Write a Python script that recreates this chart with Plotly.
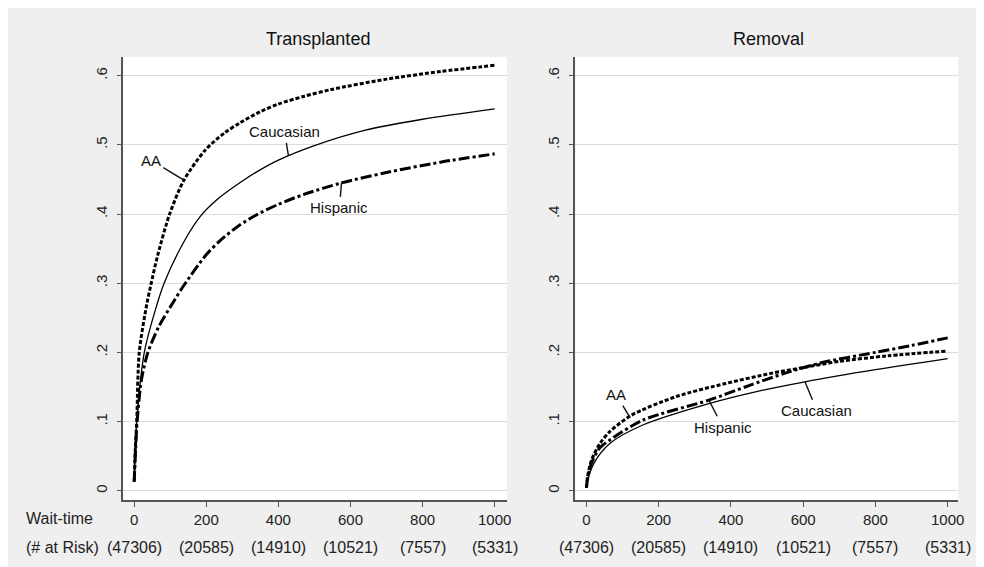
import plotly.graph_objects as go
from plotly.subplots import make_subplots

# ---------------- data ----------------
panel_titles = ["Transplanted", "Removal"]

# Transplanted panel (wait-time in days, cumulative incidence)
tx_aa_t = [0, 3, 7, 14, 35, 46, 64, 97, 138, 198, 250, 294, 350, 400, 470, 547, 700, 850, 1000]
tx_aa_v = [0.013, 0.06, 0.10, 0.20, 0.27, 0.297, 0.338, 0.398, 0.449, 0.493, 0.517, 0.532, 0.548, 0.559, 0.570, 0.580, 0.595, 0.606, 0.615]

tx_cau_t = [0, 3, 7, 28, 55, 83, 138, 184, 230, 276, 340, 400, 500, 639, 800, 1000]
tx_cau_v = [0.013, 0.06, 0.10, 0.20, 0.255, 0.30, 0.360, 0.397, 0.421, 0.439, 0.461, 0.478, 0.499, 0.521, 0.537, 0.552]

tx_his_t = [0, 3, 8, 20, 38, 69, 110, 138, 198, 239, 290, 340, 400, 469, 575, 700, 850, 1000]
tx_his_v = [0.013, 0.05, 0.10, 0.16, 0.20, 0.238, 0.274, 0.297, 0.340, 0.362, 0.383, 0.399, 0.414, 0.428, 0.445, 0.460, 0.475, 0.487]

# Removal panel
rm_aa_t = [0, 3, 14, 37, 64, 124, 248, 385, 514, 600, 700, 834, 1000]
rm_aa_v = [0.004, 0.02, 0.044, 0.068, 0.085, 0.109, 0.136, 0.155, 0.170, 0.178, 0.187, 0.195, 0.202]

rm_cau_t = [0, 3, 21, 64, 156, 339, 468, 605, 800, 1000]
rm_cau_v = [0.004, 0.014, 0.040, 0.068, 0.095, 0.126, 0.143, 0.1575, 0.175, 0.191]

rm_his_t = [0, 3, 14, 37, 64, 156, 339, 450, 550, 650, 800, 900, 1000]
rm_his_v = [0.004, 0.017, 0.040, 0.062, 0.073, 0.102, 0.131, 0.152, 0.170, 0.185, 0.200, 0.210, 0.221]

x_ticks = [0, 200, 400, 600, 800, 1000]
at_risk = ["(47306)", "(20585)", "(14910)", "(10521)", "(7557)", "(5331)"]
y_ticks = [0, 0.1, 0.2, 0.3, 0.4, 0.5, 0.6]
y_tick_text = ["0", ".1", ".2", ".3", ".4", ".5", ".6"]

# ---------------- geometry helpers (page offset by 8px body margin) ----------------
FONT = "Liberation Sans, Arial, sans-serif"
OFF = 8
W, H = 984 - OFF, 567 - OFF


def px(x):
    return (x - OFF) / W


def py(y):
    return 1 - (y - OFF) / H


left_dom = [px(124), px(510)]
right_dom = [px(579), px(964)]
y_dom = [py(500), py(57)]

fig = make_subplots(rows=1, cols=2)

styles = {
    "AA": dict(color="black", width=3, dash="4px,2px"),
    "Caucasian": dict(color="black", width=1.3),
    "Hispanic": dict(color="black", width=3, dash="11px,3px,3px,3px"),
}


def add(t, v, name, col):
    fig.add_trace(go.Scatter(x=t, y=v, mode="lines", name=name,
                             line=dict(shape="spline", smoothing=0.8, **styles[name]),
                             showlegend=False), row=1, col=col)


add(tx_cau_t, tx_cau_v, "Caucasian", 1)
add(tx_his_t, tx_his_v, "Hispanic", 1)
add(tx_aa_t, tx_aa_v, "AA", 1)
add(rm_cau_t, rm_cau_v, "Caucasian", 2)
add(rm_his_t, rm_his_v, "Hispanic", 2)
add(rm_aa_t, rm_aa_v, "AA", 2)

xaxis_common = dict(tickmode="array", tickvals=x_ticks,
                    ticktext=[str(v) for v in x_ticks], ticks="outside", ticklen=5,
                    tickcolor="#555", showline=True, linecolor="#555", linewidth=1.5,
                    showgrid=False, zeroline=False,
                    tickfont=dict(family=FONT, size=15, color="#222"))
yaxis_common = dict(range=[-0.0134, 0.627], tickmode="array", tickvals=y_ticks,
                    ticktext=y_tick_text, tickangle=-90, ticks="outside", ticklen=5,
                    tickcolor="#555", showline=True, linecolor="#555", linewidth=1.5,
                    showgrid=True, gridcolor="#dcdcdc", gridwidth=1, zeroline=False,
                    ticklabelstandoff=4,
                    tickfont=dict(family=FONT, size=15, color="#222"), domain=y_dom)

fig.update_layout(
    xaxis=dict(domain=left_dom, range=[-30.3, 1034], **xaxis_common),
    xaxis2=dict(domain=right_dom, range=[-30.3, 1029], **xaxis_common),
    yaxis=dict(**yaxis_common),
    yaxis2=dict(**yaxis_common),
)

fig.update_layout(
    width=W, height=H,
    margin=dict(l=0, r=0, t=0, b=0),
    paper_bgcolor="#efefef",
    plot_bgcolor="white",
    font=dict(family=FONT, color="#222"),
    showlegend=False,
)

# panel titles
for title, cx in zip(panel_titles, [320, 773]):
    fig.add_annotation(text=title, xref="paper", yref="paper",
                       x=px(cx), y=py(39), showarrow=False,
                       font=dict(family=FONT, size=18, color="#111"),
                       xanchor="center", yanchor="middle")

# row labels
fig.add_annotation(text="Wait-time", xref="paper", yref="paper", x=px(24), y=py(518),
                   showarrow=False, xanchor="left", yanchor="middle",
                   font=dict(family=FONT, size=16, color="#222"))
fig.add_annotation(text="(# at Risk)", xref="paper", yref="paper", x=px(24), y=py(547),
                   showarrow=False, xanchor="left", yanchor="middle",
                   font=dict(family=FONT, size=16, color="#222"))

# number at risk row
for xr in ["x", "x2"]:
    for t, r in zip(x_ticks, at_risk):
        fig.add_annotation(text=r, xref=xr, yref="paper", x=t, y=py(547),
                           showarrow=False, xanchor="center", yanchor="middle",
                           font=dict(family=FONT, size=16, color="#222"))

# curve labels with pointer lines
labels = [
    ("x", "y", "AA", 138, 0.449, -33, -20),
    ("x", "y", "Caucasian", 428, 0.484, -4, -24),
    ("x", "y", "Hispanic", 575, 0.445, -2, 25),
    ("x2", "y2", "AA", 119, 0.107, -13, -22),
    ("x2", "y2", "Hispanic", 339, 0.131, 14, 27),
    ("x2", "y2", "Caucasian", 605, 0.1575, 12, 29),
]
for xr, yr, txt, x, y, ax, ay in labels:
    fig.add_annotation(text=txt, xref=xr, yref=yr, x=x, y=y, ax=ax, ay=ay,
                       showarrow=True, arrowhead=0, arrowwidth=1.4, arrowcolor="#111",
                       standoff=0, startstandoff=1,
                       font=dict(family=FONT, size=15, color="#111"))

fig.write_html("out.html")
